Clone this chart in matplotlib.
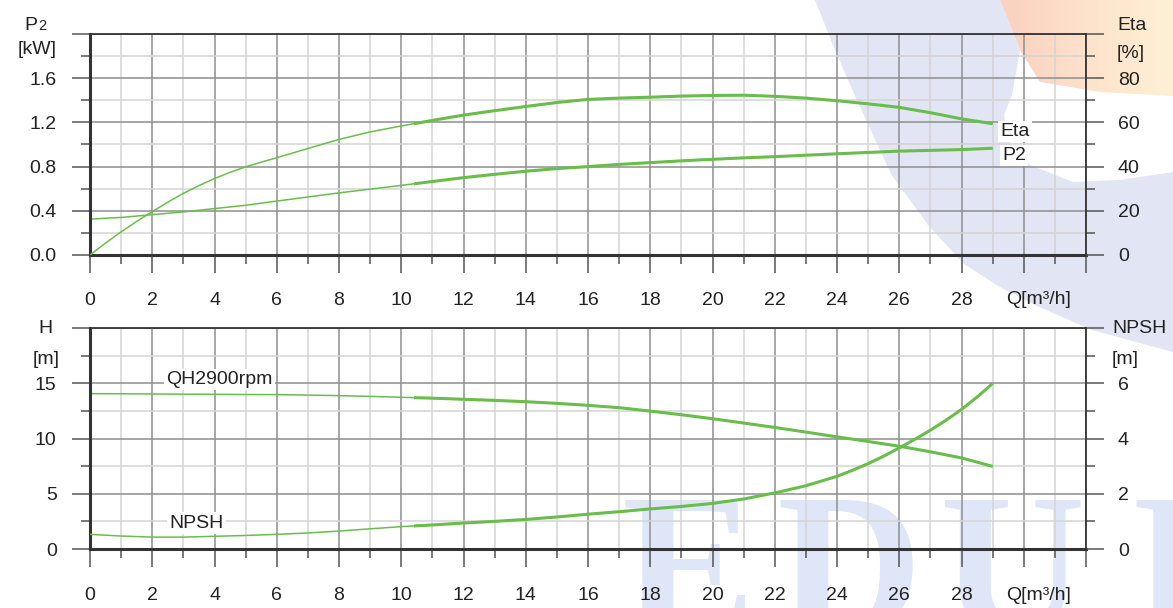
import matplotlib
matplotlib.use('Agg')
import matplotlib.pyplot as plt
import numpy as np
from matplotlib.colors import LinearSegmentedColormap
from matplotlib.patches import Polygon, Rectangle
from matplotlib.ticker import MultipleLocator, FuncFormatter

plt.rcParams['font.family'] = ['Liberation Sans', 'DejaVu Sans']

W, H = 1173, 608

# pump curves, one point per m3/h (finer where the curves bend)
q = list(range(0, 30))
p2 = [0.325, 0.34, 0.365, 0.39, 0.42, 0.45, 0.488, 0.525, 0.562, 0.596,
      0.63, 0.665, 0.70, 0.73, 0.758, 0.782, 0.80, 0.82, 0.836, 0.852,
      0.866, 0.879, 0.89, 0.903, 0.916, 0.928, 0.94, 0.947, 0.954, 0.966]
q_eta = [0, 0.5, 1, 1.5, 2, 2.5, 3, 3.5, 4, 4.5, 5, 5.5, 6, 7, 8, 9,
         10, 11, 12, 13, 14, 15, 16, 17, 18, 19, 20, 21, 22, 23, 24, 25, 26, 27, 28, 29]
eta = [0, 5.4, 10.5, 15.2, 19.6, 23.9, 27.9, 31.4, 34.6, 37.4, 39.9, 42.0, 44.0, 48.2, 52.3, 55.7,
       58.4, 60.9, 63.3, 65.3, 67.2, 69.0, 70.4, 71.0, 71.4, 71.9, 72.2, 72.3, 71.8, 71.0, 69.8,
       68.4, 66.8, 64.4, 61.6, 59.4]
head = [14.06, 14.05, 14.03, 14.01, 14.0, 13.98, 13.97, 13.93, 13.88, 13.81,
        13.73, 13.65, 13.55, 13.45, 13.33, 13.18, 13.0, 12.79, 12.48, 12.15,
        11.79, 11.4, 11.0, 10.58, 10.15, 9.73, 9.3, 8.8, 8.24, 7.48]
q_npsh = [0, 1, 2, 3, 4, 5, 6, 7, 8, 9, 10, 11, 12, 13, 14, 15, 16, 17, 18, 19, 20,
          21, 22, 23, 24, 24.5, 25, 25.5, 26, 26.5, 27, 27.5, 28, 28.5, 29]
npsh = [0.53, 0.47, 0.43, 0.43, 0.46, 0.49, 0.53, 0.58, 0.65, 0.73, 0.81,
        0.87, 0.94, 1.0, 1.07, 1.16, 1.26, 1.35, 1.45, 1.54, 1.65,
        1.81, 2.03, 2.29, 2.63, 2.85, 3.09, 3.36, 3.66, 3.97, 4.30, 4.66, 5.05, 5.5, 5.99]

q_duty = 10.4   # curves are drawn bold from here on
q_max = 32
q_last_label = 28

GREEN = '#69be4b'
INK = '#222222'
FS = 14

fig = plt.figure(figsize=(W / 100, H / 100), dpi=100)

# light logo in the background
bg = fig.add_axes([0, 0, 1, 1], zorder=-10)
bg.set_xlim(0, W)
bg.set_ylim(H, 0)
bg.axis('off')
warm = Polygon([(1000, 0), (W, 0), (W, 96), (1100, 92), (1040, 82), (1020, 50)],
               closed=True, fc='none', ec='none')
bg.add_patch(warm)
fade = LinearSegmentedColormap.from_list('fade', ['#fbd0bf', '#fde2cc', '#fff0d4'])
shade = bg.imshow(np.linspace(0, 1, 64)[None, :], cmap=fade, aspect='auto',
                  extent=(1000, W, 100, 0), zorder=0)
shade.set_clip_path(warm)
bg.add_patch(Polygon([(815, 0), (835, 50), (855, 96), (891, 174), (928, 225), (964, 264),
                      (1000, 287), (1037, 306), (1092, 330), (W, 352), (W, 172),
                      (1120, 180), (1073, 182), (1030, 165), (1008, 140), (1004, 115),
                      (1012, 95), (1020, 50), (1000, 0)],
                     closed=True, fc='#e2e5f3', ec='none', zorder=1))
for ch, x in zip('EDUF', [622, 776, 940, 1132]):
    bg.text(x, 632, ch, family='Liberation Serif', weight='bold', fontsize=145,
            color='#dfe6f7', ha='left', va='baseline', zorder=1)
bg.set_xlim(0, W)
bg.set_ylim(H, 0)


def panel(bottom_px, ymax, ystep, fmt, rmax, rstep):
    ax = fig.add_axes([90 / W, 1 - bottom_px / H, 996 / W, 221 / H])
    ax.set_facecolor('none')
    ax.set_xlim(0, q_max)
    ax.set_ylim(0, ymax)
    ax.xaxis.set_major_locator(MultipleLocator(2))
    ax.xaxis.set_minor_locator(MultipleLocator(1))
    ax.xaxis.set_major_formatter(
        FuncFormatter(lambda v, p: f'{v:.0f}' if v <= q_last_label else ''))
    ax.yaxis.set_major_locator(MultipleLocator(ystep))
    ax.yaxis.set_minor_locator(MultipleLocator(ystep / 2))
    ax.yaxis.set_major_formatter(
        FuncFormatter(lambda v, p: fmt.format(v) if v < ymax - 1e-9 else ''))
    ax.set_axisbelow(True)
    ax.grid(which='major', color='#8e8e8e', lw=1.1)
    ax.grid(which='minor', color='#d4d4d4', lw=1.1)
    ax.tick_params(which='major', length=13, width=1.1, color='#555555',
                   labelsize=FS, labelcolor=INK)
    ax.tick_params(which='minor', length=6.5, width=1.1, color='#555555')
    ax.tick_params(axis='x', which='major', pad=14)
    ax.tick_params(axis='y', which='major', pad=11)
    for s in ax.spines.values():
        s.set_color('#333333')
    ax.spines['left'].set_linewidth(2.2)
    ax.spines['bottom'].set_linewidth(2.2)
    ax.spines['top'].set_linewidth(1.3)
    ax.spines['right'].set_visible(False)

    rx = ax.twinx()
    rx.set_ylim(0, rmax)
    rx.yaxis.set_major_locator(MultipleLocator(rstep))
    rx.yaxis.set_minor_locator(MultipleLocator(rstep / 2))
    rx.yaxis.set_major_formatter(
        FuncFormatter(lambda v, p: f'{v:.0f}' if v < rmax - 1e-9 else ''))
    rx.tick_params(which='major', length=13, width=1.1, color='#555555',
                   labelsize=FS, labelcolor=INK, pad=10)
    rx.tick_params(which='minor', length=6.5, width=1.1, color='#555555')
    for s in ('left', 'bottom', 'top'):
        rx.spines[s].set_visible(False)
    rx.spines['right'].set_linewidth(1.3)
    rx.spines['right'].set_color('#333333')
    return ax, rx


def curve(ax, x, y):
    ax.plot(x, y, color=GREEN, lw=1.1, solid_capstyle='butt')
    bold, = ax.plot(x, y, color=GREEN, lw=2.2, solid_capstyle='butt')
    bold.set_clip_path(Rectangle((q_duty, -1000), 100, 2000, transform=ax.transData))


def label(ax, x, y, s):
    ax.text(x, y, s, fontsize=FS, color=INK, ha='left', va='center',
            bbox=dict(fc='white', ec='none', pad=1.5))


def ftext(x, y, s, size=FS, **kw):
    fig.text(x / W, 1 - y / H, s, fontsize=size, color=INK, **kw)


# power and efficiency
ax1, ax1r = panel(255, 2.0, 0.4, '{:.1f}', 100, 20)
curve(ax1, q, p2)
curve(ax1r, q_eta, eta)
label(ax1r, 29.25, 56.0, 'Eta')
label(ax1, 29.3, 0.90, 'P2')

# head and NPSH
ax2, ax2r = panel(549, 20, 5, '{:.0f}', 8, 2)
curve(ax2, q, head)
curve(ax2r, q_npsh, npsh)
label(ax2, 2.45, 15.35, 'QH2900rpm')
label(ax2r, 2.55, 0.94, 'NPSH')

# axis titles
ftext(37.5, 30, 'P', ha='right', va='baseline')
ftext(38.5, 30, '2', size=10.5, ha='left', va='baseline')
ftext(37.5, 50, '[kW]', ha='center', va='center')
ftext(1117, 25, 'Eta', ha='left', va='center')
ftext(1117, 53, '[%]', ha='left', va='center')
ftext(45, 329, 'H', ha='center', va='center')
ftext(46, 359, '[m]', ha='center', va='center')
ftext(1112, 329, 'NPSH', ha='left', va='center')
ftext(1112, 359, '[m]', ha='left', va='center')
ftext(1039, 300, 'Q[m³/h]', ha='center', va='center')
ftext(1039, 595, 'Q[m³/h]', ha='center', va='center')

fig.savefig('out.png', dpi=100)
